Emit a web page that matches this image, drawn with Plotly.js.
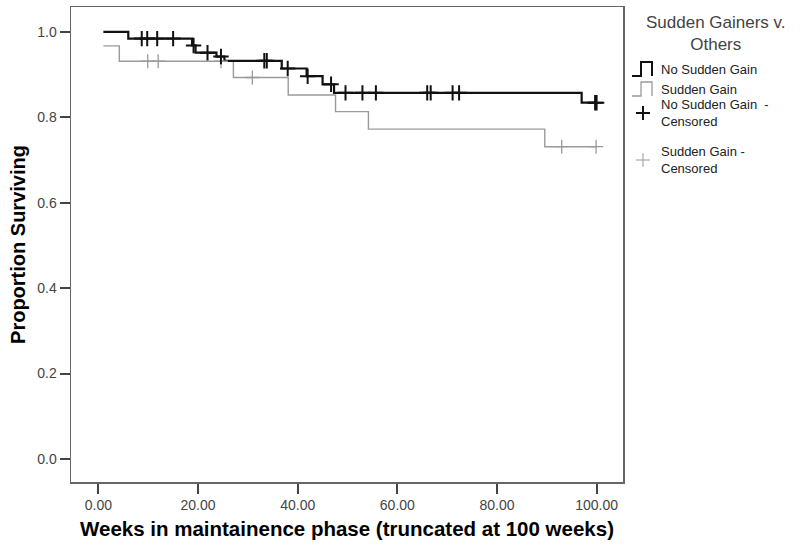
<!DOCTYPE html>
<html>
<head>
<meta charset="utf-8">
<script src="https://cdn.plot.ly/plotly-3.0.1.min.js"></script>
<style>html,body{margin:0;padding:0;background:#fff;}#chart{width:800px;height:552px;}</style>
</head>
<body>
<div id="chart"></div>
<script>
// Kaplan-Meier step data
var noGainTimes = [1, 6.0, 18.8, 19.5, 23.7, 25.3, 36.8, 41.8, 45.0, 47.3, 97.0, 100];
var noGainSurv  = [1.0, 0.984, 0.968, 0.951, 0.942, 0.932, 0.914, 0.896, 0.877, 0.857, 0.834, 0.834];
var gainTimes = [1, 4.2, 27.1, 38.1, 47.6, 54.2, 89.6, 100];
var gainSurv  = [0.967, 0.931, 0.893, 0.852, 0.813, 0.772, 0.731, 0.731];
// Censored observations
var noGainCensT = [8.7, 9.8, 11.8, 15.0, 19.1, 21.9, 24.6, 33.3, 33.8, 38.0, 42.0, 46.7, 49.6, 53.0, 55.7, 66.0, 66.7, 71.1, 72.4, 99.7, 100];
var noGainCensS = [0.984, 0.984, 0.984, 0.984, 0.968, 0.951, 0.942, 0.932, 0.932, 0.914, 0.896, 0.877, 0.857, 0.857, 0.857, 0.857, 0.857, 0.857, 0.857, 0.834, 0.834];
var gainCensT = [9.9, 12.0, 24.6, 30.9, 93.0, 99.9];
var gainCensS = [0.931, 0.931, 0.931, 0.893, 0.731, 0.731];
// Axis ticks
var xTicks = [0, 20, 40, 60, 80, 100];
var yTicks = [0, 0.2, 0.4, 0.6, 0.8, 1.0];
var legendTitle = "Sudden Gainers v.<br>Others";
var legendLabels = ["No Sudden Gain", "Sudden Gain", "No Sudden Gain  -<br>Censored", "Sudden Gain -<br>Censored"];

var FONT = "Arial, 'Liberation Sans', sans-serif";
var BLACK = "#111111", GRAY = "#9a9a9a";

var traces = [
  {x: gainTimes, y: gainSurv, mode: "lines", line: {shape: "hv", color: GRAY, width: 1.4}, showlegend: false, hoverinfo: "skip"},
  {x: noGainTimes, y: noGainSurv, mode: "lines", line: {shape: "hv", color: BLACK, width: 2.2}, showlegend: false, hoverinfo: "skip"},
  {x: gainCensT, y: gainCensS, mode: "markers", marker: {symbol: "cross-thin", size: 10, line: {color: GRAY, width: 1.3}}, showlegend: false, hoverinfo: "skip"},
  {x: noGainCensT, y: noGainCensS, mode: "markers", marker: {symbol: "cross-thin", size: 11, line: {color: BLACK, width: 2}}, showlegend: false, hoverinfo: "skip"}
];

// Legend drawn in pixel positions converted to paper coords
var L = 71, R = 623, T = 7, B = 482;
function px(x){ return (x - L) / (R - L); }
function py(y){ return (B - y) / (B - T); }

var shapes = [
  {type: "path", xref: "paper", yref: "paper", path: "M " + px(632) + "," + py(76) + " L " + px(641) + "," + py(76) + " L " + px(641) + "," + py(62) + " L " + px(652) + "," + py(62) + " L " + px(652) + "," + py(76), line: {color: BLACK, width: 2}},
  {type: "path", xref: "paper", yref: "paper", path: "M " + px(632) + "," + py(96) + " L " + px(641) + "," + py(96) + " L " + px(641) + "," + py(82) + " L " + px(652) + "," + py(82) + " L " + px(652) + "," + py(96), line: {color: GRAY, width: 1.3}},
  {type: "line", xref: "paper", yref: "paper", x0: px(636), x1: px(650), y0: py(113), y1: py(113), line: {color: BLACK, width: 2}},
  {type: "line", xref: "paper", yref: "paper", x0: px(643), x1: px(643), y0: py(106), y1: py(120), line: {color: BLACK, width: 2}},
  {type: "line", xref: "paper", yref: "paper", x0: px(636), x1: px(650), y0: py(160), y1: py(160), line: {color: "#aaaaaa", width: 1.2}},
  {type: "line", xref: "paper", yref: "paper", x0: px(643), x1: px(643), y0: py(153), y1: py(167), line: {color: "#aaaaaa", width: 1.2}}
];

var annotations = [
  {xref: "paper", yref: "paper", x: px(716), y: py(33), text: legendTitle, showarrow: false, xanchor: "center", yanchor: "middle", align: "center", font: {family: FONT, size: 17, color: "#444"}},
  {xref: "paper", yref: "paper", x: px(659), y: py(69), text: legendLabels[0], showarrow: false, xanchor: "left", yanchor: "middle", align: "left", font: {family: FONT, size: 13, color: "#222"}},
  {xref: "paper", yref: "paper", x: px(659), y: py(89), text: legendLabels[1], showarrow: false, xanchor: "left", yanchor: "middle", align: "left", font: {family: FONT, size: 13, color: "#222"}},
  {xref: "paper", yref: "paper", x: px(659), y: py(113), text: legendLabels[2], showarrow: false, xanchor: "left", yanchor: "middle", align: "left", font: {family: FONT, size: 13, color: "#222"}},
  {xref: "paper", yref: "paper", x: px(659), y: py(160), text: legendLabels[3], showarrow: false, xanchor: "left", yanchor: "middle", align: "left", font: {family: FONT, size: 13, color: "#222"}}
];

var layout = {
  width: 800, height: 552,
  margin: {l: 71, r: 177, t: 7, b: 70},
  paper_bgcolor: "#fff", plot_bgcolor: "#fff",
  showlegend: false,
  xaxis: {
    range: [-5.5, 105.3], tickvals: xTicks, tickformat: ".2f",
    ticks: "outside", ticklen: 10, tickwidth: 2, tickcolor: "#444",
    showline: true, linecolor: "#666", linewidth: 1.5, mirror: true,
    showgrid: false, zeroline: false,
    tickfont: {family: FONT, size: 14, color: "#444"},
    title: {text: "Weeks in maintainence phase (truncated at 100 weeks)", standoff: 9, font: {family: FONT, size: 20.5, color: "#000", weight: "bold"}}
  },
  yaxis: {
    range: [-0.054, 1.058], tickvals: yTicks, tickformat: ".1f",
    ticks: "outside", ticklen: 10, tickwidth: 2, tickcolor: "#444",
    showline: true, linecolor: "#666", linewidth: 1.5, mirror: true,
    showgrid: false, zeroline: false,
    tickfont: {family: FONT, size: 14, color: "#444"},
    title: {text: "Proportion Surviving", standoff: 6, font: {family: FONT, size: 20, color: "#000", weight: "bold"}}
  },
  shapes: shapes,
  annotations: annotations
};

Plotly.newPlot("chart", traces, layout, {displayModeBar: false, staticPlot: true});
</script>
</body>
</html>
